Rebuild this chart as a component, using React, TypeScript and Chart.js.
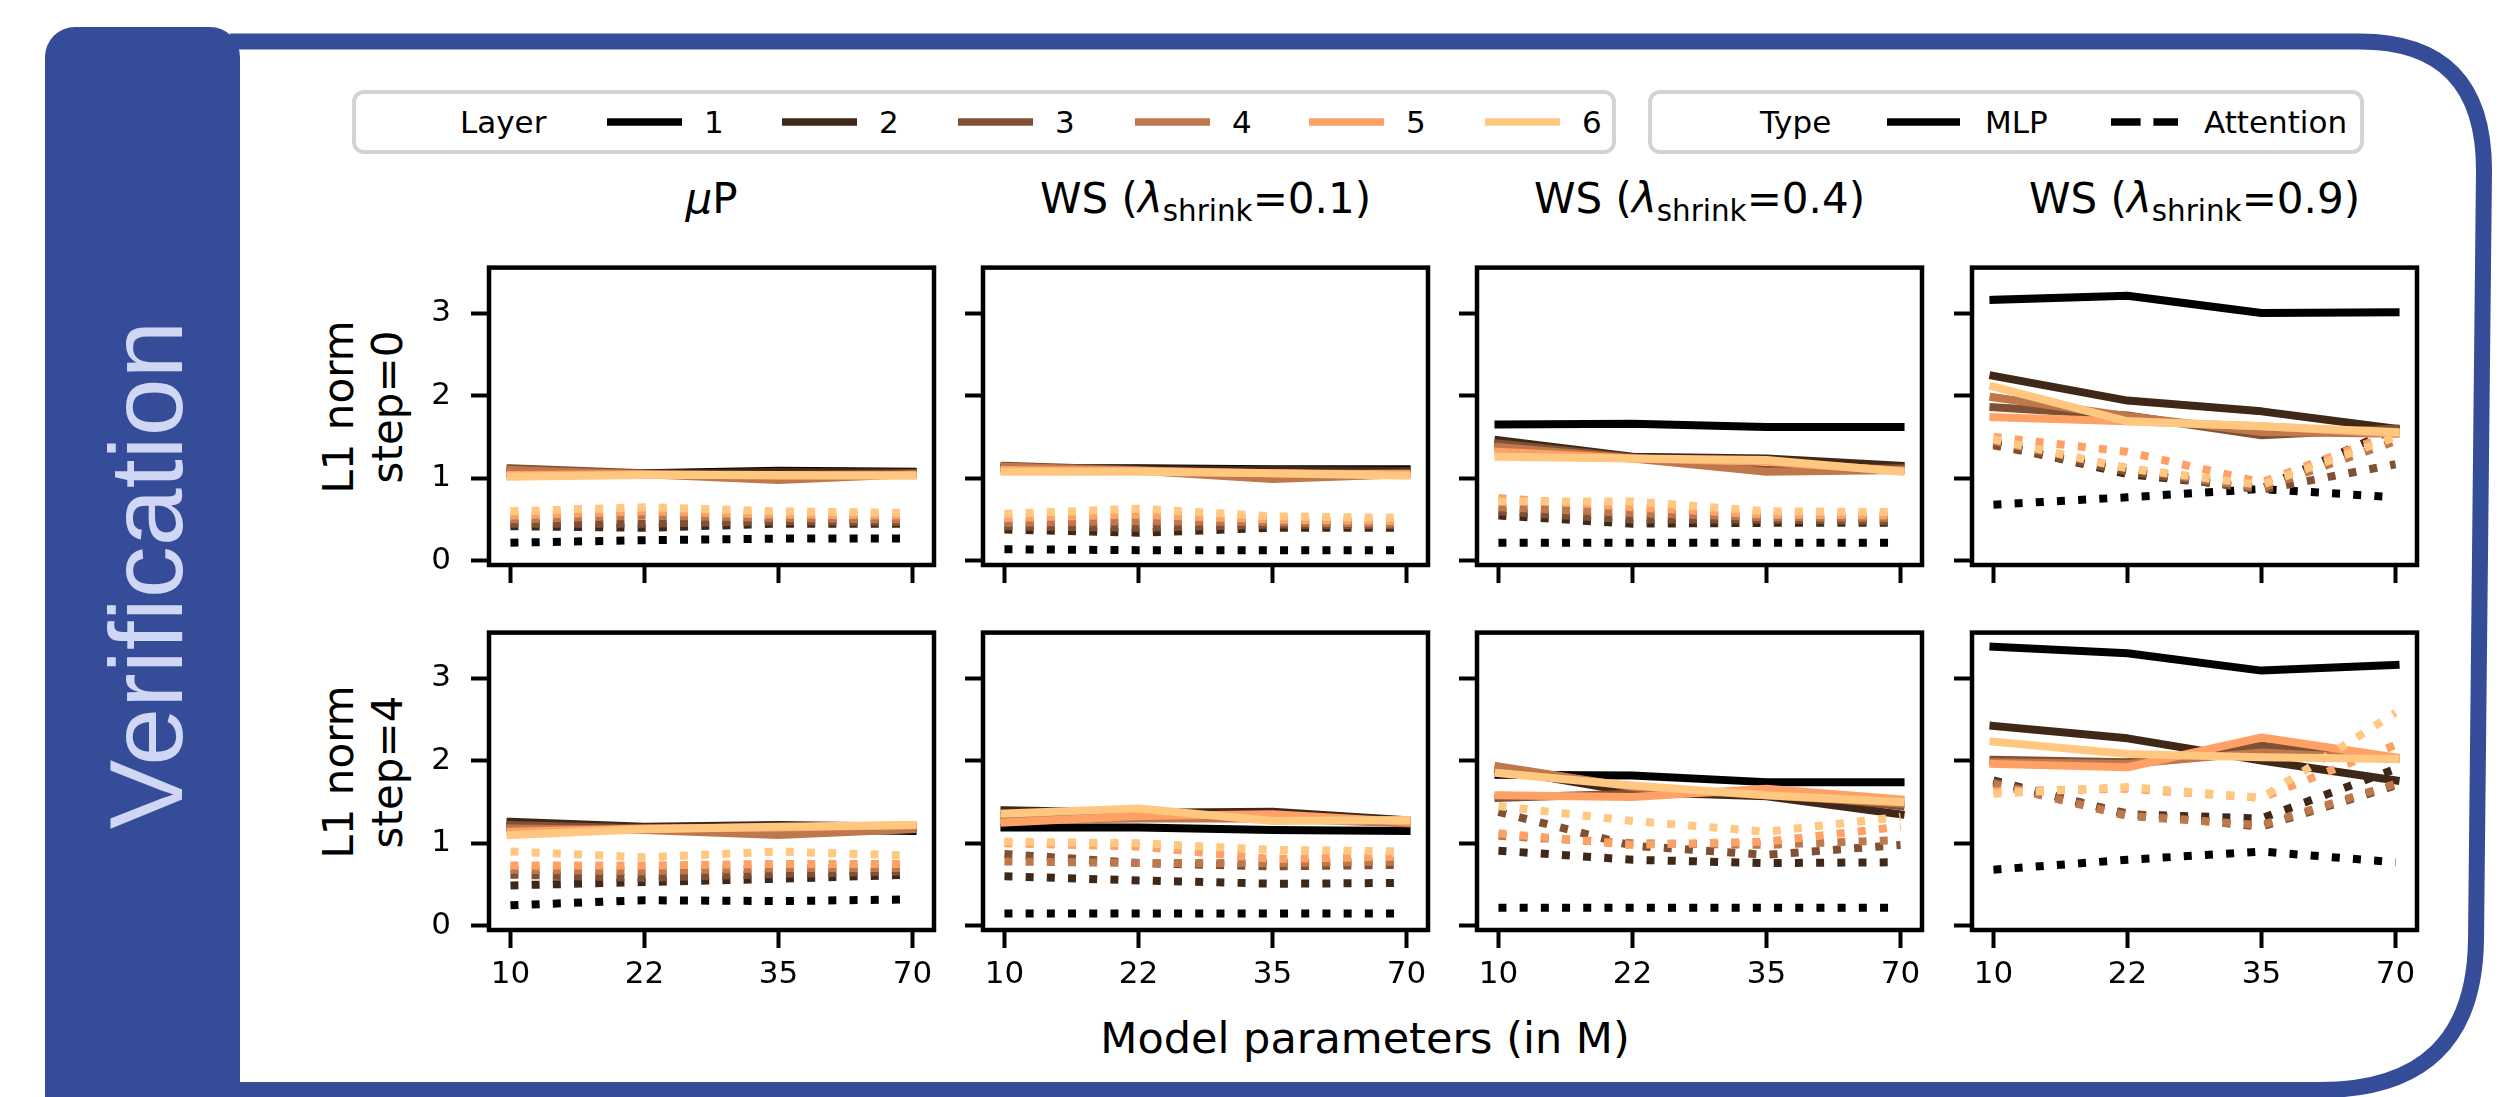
import React, { useEffect, useRef } from 'react';
import { Chart, registerables } from 'chart.js';

Chart.register(...registerables);

const FONT = "'DejaVu Sans', sans-serif";

// ---------------- data ----------------
const X_LABELS = ['10', '22', '35', '70'];
const Y_TICKS = [0, 1, 2, 3];
const LAYERS = ['1', '2', '3', '4', '5', '6'];
const LAYER_COLORS = ['#000000', '#402819', '#7f5033', '#bf784c', '#ffa065', '#ffc77f'];
const TYPES = ['MLP', 'Attention'];
const ROW_LABELS = ['step=0', 'step=4'];
const SHRINK_VALUES = ['0.1', '0.4', '0.9'];

// muP, step=0
const MUP_S0_MLP = [
  [1.05, 1.06, 1.09, 1.08],
  [1.07, 1.05, 1.08, 1.07],
  [1.12, 1.06, 1.04, 1.06],
  [1.10, 1.05, 0.98, 1.05],
  [1.04, 1.05, 1.03, 1.04],
  [1.02, 1.04, 1.04, 1.03],
];
const MUP_S0_ATTN = [
  [0.22, 0.25, 0.27, 0.27],
  [0.42, 0.40, 0.45, 0.45],
  [0.45, 0.45, 0.48, 0.47],
  [0.50, 0.55, 0.52, 0.50],
  [0.55, 0.60, 0.56, 0.55],
  [0.60, 0.65, 0.60, 0.58],
];
// WS 0.1, step=0
const WS1_S0_MLP = [
  [1.12, 1.12, 1.11, 1.11],
  [1.13, 1.11, 1.10, 1.09],
  [1.15, 1.10, 1.03, 1.07],
  [1.14, 1.09, 0.99, 1.05],
  [1.10, 1.09, 1.06, 1.05],
  [1.08, 1.08, 1.06, 1.03],
];
const WS1_S0_ATTN = [
  [0.14, 0.13, 0.13, 0.13],
  [0.38, 0.34, 0.40, 0.40],
  [0.42, 0.40, 0.44, 0.43],
  [0.46, 0.48, 0.47, 0.45],
  [0.52, 0.56, 0.50, 0.48],
  [0.57, 0.63, 0.54, 0.52],
];
// WS 0.4, step=0
const WS4_S0_MLP = [
  [1.65, 1.66, 1.62, 1.62],
  [1.46, 1.26, 1.24, 1.15],
  [1.42, 1.25, 1.10, 1.12],
  [1.38, 1.24, 1.08, 1.10],
  [1.32, 1.24, 1.20, 1.09],
  [1.26, 1.24, 1.22, 1.08],
];
const WS4_S0_ATTN = [
  [0.22, 0.22, 0.22, 0.22],
  [0.55, 0.45, 0.46, 0.46],
  [0.60, 0.50, 0.50, 0.48],
  [0.65, 0.58, 0.53, 0.52],
  [0.76, 0.65, 0.56, 0.55],
  [0.72, 0.72, 0.60, 0.59],
];
// WS 0.9, step=0
const WS9_S0_MLP = [
  [3.16, 3.21, 3.00, 3.01],
  [2.24, 1.94, 1.81, 1.60],
  [1.86, 1.76, 1.52, 1.60],
  [1.98, 1.75, 1.56, 1.54],
  [1.74, 1.69, 1.63, 1.54],
  [2.11, 1.69, 1.63, 1.56],
];
const WS9_S0_ATTN = [
  [0.68, 0.77, 0.87, 0.77],
  [1.42, 1.05, 0.88, 1.60],
  [1.40, 1.08, 0.86, 1.17],
  [1.45, 1.12, 0.88, 1.45],
  [1.50, 1.32, 0.95, 1.55],
  [1.47, 1.12, 0.92, 1.50],
];
// muP, step=4
const MUP_S4_MLP = [
  [1.20, 1.18, 1.17, 1.15],
  [1.26, 1.20, 1.22, 1.20],
  [1.22, 1.18, 1.20, 1.18],
  [1.18, 1.16, 1.10, 1.17],
  [1.14, 1.18, 1.19, 1.22],
  [1.10, 1.17, 1.20, 1.22],
];
const MUP_S4_ATTN = [
  [0.25, 0.31, 0.30, 0.32],
  [0.49, 0.53, 0.57, 0.62],
  [0.62, 0.58, 0.63, 0.66],
  [0.68, 0.66, 0.70, 0.70],
  [0.73, 0.73, 0.75, 0.75],
  [0.90, 0.83, 0.90, 0.85],
];
// WS 0.1, step=4
const WS1_S4_MLP = [
  [1.19, 1.19, 1.16, 1.15],
  [1.40, 1.37, 1.38, 1.28],
  [1.33, 1.33, 1.32, 1.25],
  [1.28, 1.30, 1.30, 1.24],
  [1.25, 1.33, 1.35, 1.26],
  [1.36, 1.42, 1.27, 1.28],
];
const WS1_S4_ATTN = [
  [0.15, 0.15, 0.15, 0.15],
  [0.60, 0.55, 0.51, 0.52],
  [0.87, 0.76, 0.72, 0.74],
  [0.78, 0.76, 0.76, 0.78],
  [1.00, 0.96, 0.81, 0.84],
  [1.02, 1.00, 0.92, 0.90],
];
// WS 0.4, step=4
const WS4_S4_MLP = [
  [1.83, 1.82, 1.74, 1.74],
  [1.90, 1.62, 1.57, 1.35],
  [1.55, 1.60, 1.62, 1.45],
  [1.93, 1.68, 1.58, 1.48],
  [1.58, 1.56, 1.66, 1.53],
  [1.85, 1.70, 1.58, 1.50],
];
const WS4_S4_ATTN = [
  [0.22, 0.22, 0.22, 0.22],
  [0.91, 0.80, 0.76, 0.77],
  [1.38, 0.97, 0.86, 0.98],
  [1.09, 1.00, 0.98, 1.04],
  [1.12, 0.98, 1.02, 1.20],
  [1.45, 1.27, 1.14, 1.32],
];
// WS 0.9, step=4
const WS9_S4_MLP = [
  [3.38, 3.30, 3.09, 3.16],
  [2.42, 2.27, 2.00, 1.76],
  [2.01, 1.98, 2.18, 2.03],
  [1.98, 1.96, 2.10, 2.02],
  [1.96, 1.92, 2.28, 2.04],
  [2.23, 2.08, 2.04, 2.02],
];
const WS9_S4_ATTN = [
  [0.68, 0.80, 0.90, 0.77],
  [1.76, 1.35, 1.30, 1.90],
  [1.74, 1.36, 1.20, 1.70],
  [1.72, 1.33, 1.22, 1.72],
  [1.63, 1.66, 1.55, 2.19],
  [1.60, 1.68, 1.55, 2.58],
];

const PANELS = [
  [
    { mlp: MUP_S0_MLP, attn: MUP_S0_ATTN },
    { mlp: WS1_S0_MLP, attn: WS1_S0_ATTN },
    { mlp: WS4_S0_MLP, attn: WS4_S0_ATTN },
    { mlp: WS9_S0_MLP, attn: WS9_S0_ATTN },
  ],
  [
    { mlp: MUP_S4_MLP, attn: MUP_S4_ATTN },
    { mlp: WS1_S4_MLP, attn: WS1_S4_ATTN },
    { mlp: WS4_S4_MLP, attn: WS4_S4_ATTN },
    { mlp: WS9_S4_MLP, attn: WS9_S4_ATTN },
  ],
];

// ---------------- layout ----------------
const COL_LEFT = [489, 983, 1477, 1972];
const ROW_TOP = [249, 614];
const PLOT_W = 445;
const PLOT_H = 316;
const PAD_L = 170;
const PAD_R = 30;
const PAD_T = 20;
const PAD_B = 70;
const LINE_W = 8;
const BLUE = '#354c98';

const framePlugin = {
  id: 'axesFrame',
  afterDatasetsDraw(chart: any) {
    const { ctx, chartArea: a } = chart;
    ctx.save();
    ctx.strokeStyle = '#000';
    ctx.lineWidth = 4.5;
    ctx.strokeRect(a.left, a.top, a.right - a.left, a.bottom - a.top);
    ctx.restore();
  },
};

function Panel({ mlp, attn, left, top, showY, showX }: any) {
  const ref = useRef<HTMLCanvasElement>(null);
  useEffect(() => {
    const datasets: any[] = [];
    let k = 0;
    LAYERS.forEach((layer, i) => {
      datasets.push({
        label: `${TYPES[0]} ${layer}`,
        data: mlp[i].map((y: number, j: number) => ({ x: j, y })),
        borderColor: LAYER_COLORS[i],
        backgroundColor: LAYER_COLORS[i],
        borderWidth: LINE_W,
        borderCapStyle: 'square',
        borderJoinStyle: 'round',
        pointRadius: 0,
        tension: 0,
        fill: false,
        order: 100 - k++,
      });
      datasets.push({
        label: `${TYPES[1]} ${layer}`,
        data: attn[i].map((y: number, j: number) => ({ x: j, y })),
        borderColor: LAYER_COLORS[i],
        backgroundColor: LAYER_COLORS[i],
        borderWidth: LINE_W,
        borderDash: [LINE_W, LINE_W * 1.65],
        borderCapStyle: 'butt',
        borderJoinStyle: 'round',
        pointRadius: 0,
        tension: 0,
        fill: false,
        order: 100 - k++,
      });
    });
    const tickFont = { family: FONT, size: 31 };
    const chart = new Chart(ref.current as HTMLCanvasElement, {
      type: 'line',
      data: { datasets },
      options: {
        responsive: false,
        animation: false,
        devicePixelRatio: 1,
        events: [],
        layout: { padding: { top: PAD_T, right: PAD_R, left: 0, bottom: 0 }, autoPadding: false },
        plugins: { legend: { display: false }, tooltip: { enabled: false }, title: { display: false } },
        scales: {
          x: {
            type: 'linear',
            min: -0.16,
            max: 3.16,
            afterBuildTicks: (s: any) => {
              s.ticks = X_LABELS.map((_, i) => ({ value: i }));
            },
            afterFit: (s: any) => {
              s.height = PAD_B;
            },
            ticks: {
              autoSkip: false,
              maxRotation: 0,
              padding: 8,
              color: '#000',
              font: tickFont,
              callback: (_v: any, i: number) => (showX ? X_LABELS[i] : ''),
            },
            grid: { drawOnChartArea: false, drawTicks: true, tickLength: 18, tickWidth: 4, tickColor: '#000' },
            border: { display: false },
          },
          y: {
            type: 'linear',
            min: -0.05,
            max: 3.55,
            afterBuildTicks: (s: any) => {
              s.ticks = Y_TICKS.map((v) => ({ value: v }));
            },
            afterFit: (s: any) => {
              s.width = PAD_L;
            },
            ticks: {
              padding: 20,
              color: '#000',
              font: tickFont,
              callback: (v: any) => (showY ? String(v) : ''),
            },
            grid: { drawOnChartArea: false, drawTicks: true, tickLength: 18, tickWidth: 4, tickColor: '#000' },
            border: { display: false },
          },
        },
      } as any,
      plugins: [framePlugin],
    });
    return () => chart.destroy();
  }, []);
  return (
    <canvas
      ref={ref}
      width={PAD_L + PLOT_W + PAD_R}
      height={PAD_T + PLOT_H + PAD_B}
      style={{ position: 'absolute', left: left - PAD_L, top: top - PAD_T }}
    />
  );
}

const LEGEND_HANDLE_X = [607, 782, 958, 1135, 1309, 1485];

function Overlay() {
  const colCenters = COL_LEFT.map((l) => l + PLOT_W / 2);
  return (
    <svg width={2504} height={1097} style={{ position: 'absolute', left: 0, top: 0 }} fontFamily={FONT}>
      {/* outer frame */}
      <path
        d="M 230 41.5 L 2360 41.5 Q 2484 41.5 2484 170 L 2476 940 Q 2474 1090 2320 1090 L 230 1090"
        fill="none"
        stroke={BLUE}
        strokeWidth={16}
      />
      {/* banner */}
      <rect x={45} y={27} width={195} height={1200} rx={30} fill={BLUE} />
      <text
        transform="translate(146,575) rotate(-90)"
        textAnchor="middle"
        dominantBaseline="central"
        fontFamily="'Liberation Sans', Arial, sans-serif"
        fontSize={104}
        fill="#cfd7f5"
      >
        Verification
      </text>

      {/* legend: layers */}
      <rect x={354} y={92} width={1260} height={60} rx={10} fill="#fff" stroke="#d3d3d3" strokeWidth={4} />
      <text x={460} y={133} fontSize={31} fill="#000">Layer</text>
      {LAYERS.map((l, i) => (
        <g key={l}>
          <line x1={LEGEND_HANDLE_X[i]} x2={LEGEND_HANDLE_X[i] + 75} y1={122} y2={122} stroke={LAYER_COLORS[i]} strokeWidth={7.5} />
          <text x={LEGEND_HANDLE_X[i] + 97} y={133} fontSize={31} fill="#000">{l}</text>
        </g>
      ))}
      {/* legend: type */}
      <rect x={1650} y={92} width={712} height={60} rx={10} fill="#fff" stroke="#d3d3d3" strokeWidth={4} />
      <text x={1760} y={133} fontSize={31} fill="#000">Type</text>
      <line x1={1887} x2={1960} y1={122} y2={122} stroke="#000" strokeWidth={7.5} />
      <text x={1985} y={133} fontSize={31} fill="#000">{TYPES[0]}</text>
      <line x1={2111} x2={2178} y1={122} y2={122} stroke="#000" strokeWidth={7.5} strokeDasharray="29.6 12.8" />
      <text x={2204} y={133} fontSize={31} fill="#000">{TYPES[1]}</text>

      {/* column titles */}
      <text x={colCenters[0]} y={213} fontSize={42} textAnchor="middle" fill="#000">
        <tspan fontStyle="italic">μ</tspan>P
      </text>
      {SHRINK_VALUES.map((v, i) => (
        <text key={v} x={colCenters[i + 1]} y={213} fontSize={42} textAnchor="middle" fill="#000">
          WS (<tspan fontStyle="italic">λ</tspan>
          <tspan fontSize={29.4} dy={8}>shrink</tspan>
          <tspan dy={-8}>={v})</tspan>
        </text>
      ))}

      {/* row labels */}
      {ROW_LABELS.map((r, i) => {
        const cy = ROW_TOP[i] + PLOT_H / 2;
        return (
          <g key={r}>
            <text transform={`translate(353,${cy}) rotate(-90)`} textAnchor="middle" fontSize={42} fill="#000">
              L1 norm
            </text>
            <text transform={`translate(402,${cy}) rotate(-90)`} textAnchor="middle" fontSize={42} fill="#000">
              {r}
            </text>
          </g>
        );
      })}

      {/* x axis title */}
      <text x={1365} y={1053} fontSize={43} textAnchor="middle" fill="#000">
        Model parameters (in M)
      </text>
    </svg>
  );
}

export default function App() {
  return (
    <div style={{ position: 'absolute', left: 0, top: 0, width: 2504, height: 1097, background: '#fff', overflow: 'hidden' }}>
      <Overlay />
      {PANELS.map((row, r) =>
        row.map((p, c) => (
          <Panel
            key={`${r}-${c}`}
            mlp={p.mlp}
            attn={p.attn}
            left={COL_LEFT[c]}
            top={ROW_TOP[r]}
            showY={c === 0}
            showX={r === 1}
          />
        ))
      )}
    </div>
  );
}
